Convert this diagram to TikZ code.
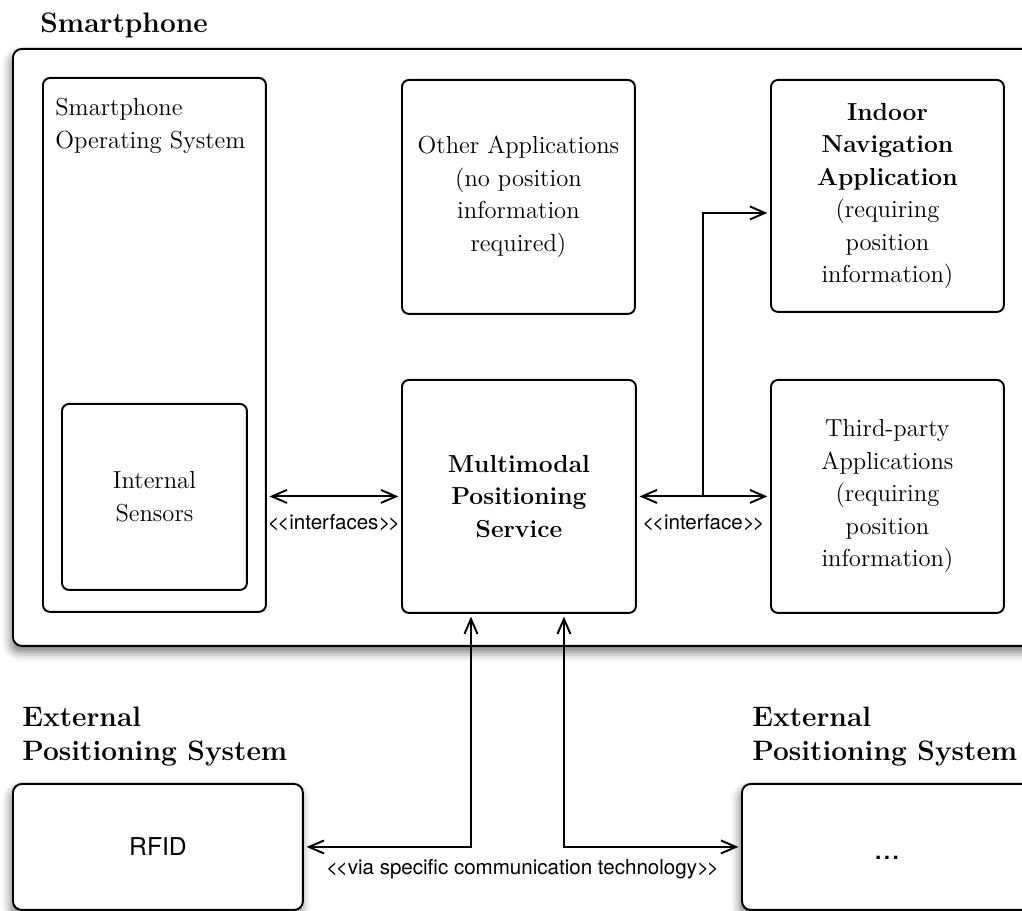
\documentclass[tikz,border=0pt]{standalone}
\usepackage{fontspec}
\newfontfamily\helv[Ligatures=TeXOff]{TeX Gyre Heros}
\usetikzlibrary{positioning, calc, arrows.meta, shadows.blur}
\newcommand{\boxtxt}{\fontsize{14}{18.5}\selectfont}
\newcommand{\headtxt}{\fontsize{16}{19.4}\selectfont\bfseries}
\newcommand{\tagtxt}{\helv\fontsize{11.7}{14}\selectfont}
\newcommand{\opentag}{<\kern-1.3pt<}
\newcommand{\closetag}{>\kern-1.3pt>}
\tikzset{
  unit/.style={draw, line width=1.1pt, rounded corners=4pt, fill=white,
               align=center, font=\boxtxt, anchor=north west, inner sep=2pt},
  outer/.style={unit, rounded corners=5pt,
                blur shadow={shadow xshift=-1pt, shadow yshift=-3.5pt,
                             shadow blur radius=5pt, shadow opacity=55}},
  head/.style={font=\headtxt, align=left, inner sep=0pt},
  tag/.style={font=\tagtxt, inner sep=1pt},
  link/.style={line width=1.1pt, -{Straight Barb[length=3mm, width=2.6mm]},
               shorten >=1.5pt},
  twoway/.style={link, {Straight Barb[length=3mm, width=2.6mm]}-{Straight Barb[length=3mm, width=2.6mm]},
                 shorten <=1.5pt},
}

\begin{document}
\begin{tikzpicture}[x=0.02cm, y=-0.02cm]
  \useasboundingbox (0,0) rectangle (1022,911);
  \clip (0,0) rectangle (1022,911);

  \node[outer, minimum width=20.76cm, minimum height=11.94cm] (phone) at (12,48) {};
  \node[head, anchor=base west] (phonetitle) at ([shift={(28,-15)}]phone.north west) {Smartphone};

  \node[unit, minimum width=4.46cm, minimum height=10.68cm] (os) at (42,77) {};
  \node[font=\boxtxt, align=left, anchor=north west, inner sep=0pt] (ostext)
       at ([shift={(13,21)}]os.north west) {Smartphone\\Operating System};
  \node[unit, minimum width=3.7cm, minimum height=3.72cm] (sensors) at (61,403) {Internal\\Sensors};

  \node[unit, minimum width=4.66cm, minimum height=4.68cm] (other) at (401,79)
       {Other Applications\\(no position\\information\\required)};
  \node[unit, minimum width=4.66cm, minimum height=4.64cm] (indoor) at (770,79)
       {\textbf{Indoor}\\\textbf{Navigation}\\\textbf{Application}\\(requiring\\position\\information)};
  \node[unit, font=\boxtxt\bfseries, minimum width=4.68cm, minimum height=4.66cm] (mps) at (401,379)
       {Multimodal\\Positioning\\Service};
  \node[unit, minimum width=4.66cm, minimum height=4.66cm] (third) at (770,379)
       {Third-party\\Applications\\(requiring\\position\\information)};

  \node[outer, font=\helv\fontsize{14}{17}\selectfont, minimum width=5.8cm, minimum height=2.52cm] (rfid)
       at (12,783) {RFID};
  \node[outer, font=\helv\fontsize{18}{22}\selectfont, text height=14.8pt, text depth=0pt,
        minimum width=5.8cm, minimum height=2.52cm] (dots) at (741,783) {...};
  \node[head, anchor=south west] (lefthead) at ([shift={(10,-16)}]rfid.north west) {External\\Positioning System};
  \node[head, anchor=south west] (righthead) at ([shift={(11,-16)}]dots.north west) {External\\Positioning System};

  \draw[twoway] (os.east |- mps.west) -- node[tag, below=0.3cm] (ifs) {\opentag interfaces\closetag} (mps.west);
  \coordinate (split) at ($(mps.east)!0.5!(third.west)$);
  \draw[twoway] (mps.east) -- node[tag, below=0.3cm] (ifc) {\opentag interface\closetag} (third.west);
  \draw[link] (split) |- ([yshift=-0.34cm]indoor.west);

  \draw[twoway] ([xshift=-0.96cm]mps.south) |- (rfid.east);
  \draw[twoway] ([xshift=0.9cm]mps.south) |- (dots.west);
  \path (rfid.east) -- node[tag, below=0.2cm] (via) {\opentag via specific communication technology\closetag} (dots.west);
\end{tikzpicture}
\end{document}
